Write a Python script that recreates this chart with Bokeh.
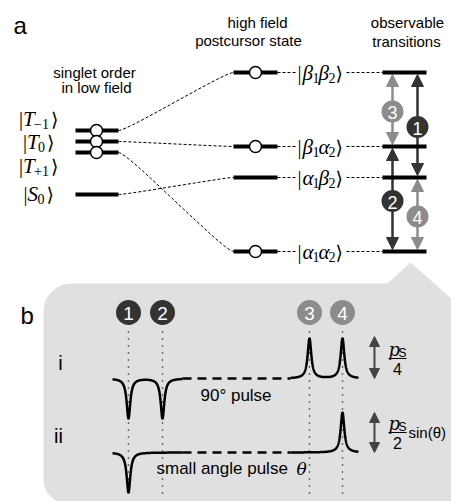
import numpy as np
from bokeh.plotting import figure
from bokeh.models import Range1d, Arrow, NormalHead
from bokeh.core.properties import value
from bokeh.embed import file_html
from bokeh.resources import INLINE

# ---------------- data ----------------
# low-field states: (main symbol, subscript)
low_sym = ["T", "T", "T", "S"]
low_sub = ["−1", "0", "+1", "0"]
low_levels = [130, 141, 152, 194]
low_label_y = [118, 141, 165, 193]
low_has_circle = [True, True, True, False]

# high-field states: spin 1, spin 2
high_s1 = ["β", "β", "α", "α"]
high_s2 = ["β", "α", "β", "α"]
high_levels = [72, 146, 177, 251]
high_has_circle = [True, True, False, True]

correlation = [0, 1, 3, 2]          # low level -> high level

trans_ids = ["1", "2", "3", "4"]
trans_upper = [0, 1, 0, 2]          # index into high_levels
trans_lower = [2, 3, 1, 3]
trans_col = [1, 0, 0, 1]            # column of the arrow (0 left, 1 right)
trans_dark = [True, True, False, False]

peak_pos = [128, 162, 309, 342]     # spectrum position of transitions 1..4
amp_i = [-1, -1, 1, 1]
amp_ii = [-1, 0, 0, 1]

DARK = "#333333"
GREY = "#8c8c8c"
PANEL = "#e0e0e0"
SANS = value("Liberation Sans")
SERIF = value("Liberation Serif")
DSERIF = value("DejaVu Serif")

p = figure(width=451, height=501, x_range=Range1d(0, 451), y_range=Range1d(501, 0),
           output_backend="svg", toolbar_location=None, min_border=0)
p.axis.visible = False
p.grid.visible = False
p.outline_line_color = None
p.background_fill_color = "white"


def txt(x, y, s, size, font=SANS, align="center", color="black", style="normal", baseline="middle"):
    p.text([x], [y], text=[s], text_font=font, text_font_size=value(f"{size}px"),
           text_align=align, text_baseline=baseline, text_color=color, text_font_style=style)


def ket(x, y, pieces):
    """pieces: list of (offset, text, kind)"""
    for off, s, kind in pieces:
        if kind == "bar":
            txt(x + off, y, s, 20, font=SERIF, align="left")
        elif kind == "ang":
            txt(x + off, y, s, 19, font=DSERIF, align="left")
        elif kind == "it":
            txt(x + off, y, s, 21, font=SERIF, style="italic", align="left")
        else:
            txt(x + off, y + 5, s, 14, font=SERIF, align="left")


# ---------------- panel b background ----------------
L, T, R, B = 43, 283, 452, 503
pts = []
def arc(cx, cy, r, t0, t1):
    t = np.linspace(t0, t1, 16)
    return list(zip(cx + r * np.cos(t), cy + r * np.sin(t)))
pts += [(L + 28, T), (387, T), (410, 262), (R, 299)]
pts += [(R, B)]
pts += arc(L + 24, B - 24, 24, np.pi / 2, np.pi)
pts += arc(L + 28, T + 28, 28, np.pi, 1.5 * np.pi)
p.patch([q[0] for q in pts], [q[1] for q in pts], fill_color=PANEL, line_color=None, level="image")

# ---------------- panel a ----------------
txt(13, 25, "a", 24, align="left")
txt(94, 72, "singlet order", 15)
txt(96, 87, "in low field", 15)
txt(257, 22, "high field", 15)
txt(248, 40, "postcursor state", 15)
txt(407, 22, "observable", 15)
txt(406, 41, "transitions", 15)

XL0, XL1, XLC = 75, 118, 96
XM0, XM1, XMC = 233, 277, 255
XR0, XR1 = 382, 426
XLAB = 297

# connecting dashed curves
for i, j in enumerate(correlation):
    y0, y1 = low_levels[i], high_levels[j]
    p.bezier(x0=[XL1], y0=[y0], x1=[XM0], y1=[y1], cx0=[XL1 + 10], cy0=[y0],
             cx1=[XM0 - 10], cy1=[y1], line_color="black", line_width=1, line_dash="3 2")

# low levels
for sym, sub, y, ly in zip(low_sym, low_sub, low_levels, low_label_y):
    p.segment(x0=[XL0], y0=[y], x1=[XL1], y1=[y], line_color="black", line_width=4)
    wsub = 16 if len(sub) > 1 else 8
    ws = 15 if sym == "T" else 14
    W = ws + wsub + 1 + 7
    lx = 38 - W / 2
    ket(lx, ly, [(0, "|", "bar"), (4, sym, "it"), (ws, sub, "sub"),
                 (ws + wsub + 1, "⟩", "ang")])
for y, c in zip(low_levels, low_has_circle):
    if c:
        p.scatter([XLC], [y], marker="circle", size=12, fill_color="white",
                  line_color="black", line_width=1.5)

# high levels + labels + right bars
for s1, s2, y, c in zip(high_s1, high_s2, high_levels, high_has_circle):
    p.segment(x0=[XM0], y0=[y], x1=[XM1], y1=[y], line_color="black", line_width=4)
    if c:
        p.scatter([XMC], [y], marker="circle", size=12, fill_color="white",
                  line_color="black", line_width=1.5)
    p.segment(x0=[XM1], y0=[y], x1=[XLAB - 1], y1=[y], line_color="black", line_width=1, line_dash="3 2")
    ket(XLAB, y, [(0, "|", "bar"), (5, s1, "it"), (15, "1", "sub"), (21, s2, "it"),
                  (31, "2", "sub"), (38, "⟩", "ang")])
    p.segment(x0=[346], y0=[y], x1=[XR0], y1=[y], line_color="black", line_width=1, line_dash="3 2")
    p.segment(x0=[XR0], y0=[y], x1=[XR1], y1=[y], line_color="black", line_width=4)

# transition arrows with numbered circles
col_x = [392, 417]
for tid, u, l, cix, dark in zip(trans_ids, trans_upper, trans_lower, trans_col, trans_dark):
    color = DARK if dark else GREY
    x = col_x[cix]
    y0, y1 = high_levels[u] + 2, high_levels[l] - 2
    arr = Arrow(x_start=x, y_start=y0, x_end=x, y_end=y1, line_color=color, line_width=2.5,
                start=NormalHead(size=12, fill_color=color, line_color=color),
                end=NormalHead(size=12, fill_color=color, line_color=color), level="underlay")
    p.add_layout(arr)
    ym = (high_levels[u] + high_levels[l]) / 2 + 2
    p.scatter([x], [ym], marker="circle", size=22, fill_color=color, line_color=None)
    txt(x, ym + 1, tid, 18, color="white")

# ---------------- panel b ----------------
txt(20, 315, "b", 24, align="left")
txt(60, 362, "i", 20)
txt(58, 435, "ii", 20)

for k, (tid, xp) in enumerate(zip(trans_ids, peak_pos)):
    color = DARK if trans_dark[k] else GREY
    p.segment(x0=[xp], y0=[331], x1=[xp], y1=[496], line_color="black", line_width=1.5, line_dash="1 6")
    p.scatter([xp], [312], marker="circle", size=25, fill_color=color, line_color=None)
    txt(xp, 313, tid, 19, color="white")

g = 2.2
H = 40
for base, amps in [(378, amp_i), (452, amp_ii)]:
    for xa, xb in [(112, 182), (290, 358)]:
        xs = np.linspace(xa, xb, 600)
        ys = np.full_like(xs, float(base))
        for xp, a in zip(peak_pos, amps):
            ys -= a * H * g * g / ((xs - xp) ** 2 + g * g)
        p.line(xs, ys, line_color="black", line_width=2.5)
    p.segment(x0=[182], y0=[base], x1=[290], y1=[base], line_color="black", line_width=2.5,
              line_dash="9 6")

txt(200, 395, "90° pulse", 17, align="left")
txt(156, 468, "small angle pulse", 17, align="left")
txt(296, 468, "θ", 17, font=DSERIF, style="italic", align="left")

# intensity arrows
for y0, y1 in [(336, 378), (412, 452)]:
    arr = Arrow(x_start=374, y_start=y0, x_end=374, y_end=y1, line_color="#444444", line_width=2,
                start=NormalHead(size=10, fill_color="#444444", line_color="#444444"),
                end=NormalHead(size=10, fill_color="#444444", line_color="#444444"), level="underlay")
    p.add_layout(arr)

# fractions
for ybar, den in [(358, "4"), (432, "2")]:
    txt(388, ybar - 9, "p", 18, font=DSERIF, style="italic", align="left")
    txt(398, ybar - 6, "S", 12, align="left")
    p.segment(x0=[388], y0=[ybar], x1=[406], y1=[ybar], line_color="black", line_width=1.2)
    txt(397, ybar + 10, den, 16)
txt(408, 432, "sin(θ)", 15, align="left")

open("out.html", "w").write(file_html(p, INLINE))
